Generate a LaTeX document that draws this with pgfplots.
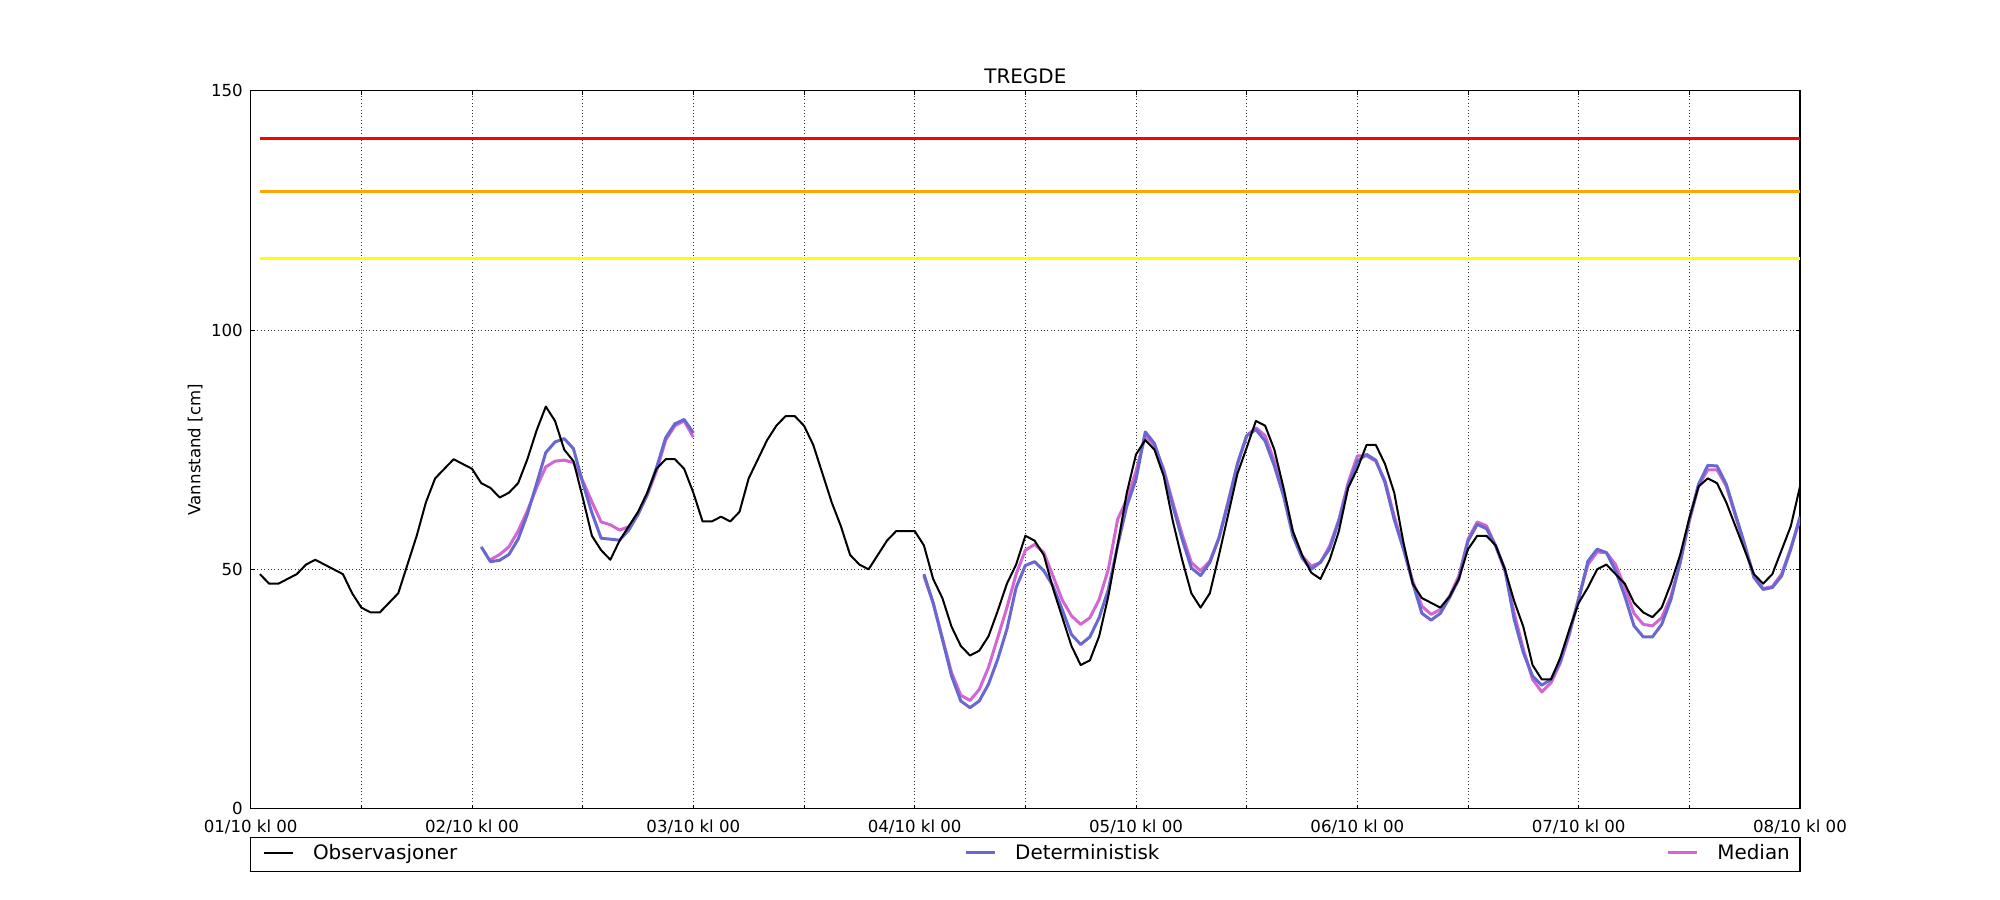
\documentclass[border=0pt]{standalone}
\usepackage{fontspec}
\setmainfont{DejaVu Sans}
\usepackage{pgfplots}
\pgfplotsset{compat=1.18}
\definecolor{detblue}{RGB}{104,104,208}
\definecolor{medpink}{RGB}{210,102,210}
\definecolor{warnorange}{RGB}{255,165,0}
\definecolor{warnyellow}{RGB}{255,255,0}
\begin{document}
\begin{tikzpicture}
\path[use as bounding box] (-181.18pt,-65.98pt) rectangle (1264.22pt,584.45pt);
\begin{axis}[
  name=ax,
  at={(0,0)}, anchor=south west,
  width=1119.68pt, height=518.97pt, scale only axis,
  xmin=0, xmax=168, ymin=0, ymax=150,
  xtick={0,12,...,168},
  xticklabels={01/10 kl 00,,02/10 kl 00,,03/10 kl 00,,04/10 kl 00,,05/10 kl 00,,06/10 kl 00,,07/10 kl 00,,08/10 kl 00},
  ytick={0,50,100,150},
  /pgf/number format/assume math mode=true,
  xticklabel style={anchor=base, yshift=-16.9pt, font=\fontsize{12}{14}\selectfont},
  yticklabel style={anchor=east, inner sep=0pt, xshift=-5.5pt, font=\fontsize{12}{14}\selectfont},
  tick align=inside, major tick length=3pt,
  tick style={black, line width=0.6pt},
  grid=major,
  grid style={black!80, line width=0.45pt, dash pattern=on 0.55pt off 1.9pt},
  axis line style={line width=0.9pt},
  title={TREGDE},
  every axis title/.style={at={(axis description cs:0.5,1.0102)}, anchor=base, font=\fontsize{14.4}{17}\selectfont},
  ylabel={Vannstand [cm]},
  ylabel style={at={(axis description cs:-0.0325,0.5)}, anchor=base, font=\fontsize{12}{14}\selectfont},
  legend style={at={(axis description cs:0.00794,-0.0614)}, anchor=west, draw=none, fill=none,
    inner sep=0pt, font=\fontsize{14.4}{17}\selectfont,
    /tikz/every odd column/.append style={column sep=11.8pt},
    /tikz/every even column/.append style={column sep=468.8pt}},
  legend columns=3,
  legend cell align=left,
  legend image code/.code={\draw[#1] (0pt,0pt) -- (20.7pt,0pt);},
  line join=round,
]
\addlegendimage{black, line width=1.45pt}
\addlegendentry{\makebox[0pt][l]{Observasjoner}}
\addlegendimage{detblue, line width=2.17pt}
\addlegendentry{\makebox[0pt][l]{Deterministisk}}
\addlegendimage{medpink, line width=2.17pt}
\addlegendentry{\makebox[0pt][l]{Median}}

\addplot[forget plot, red, line width=2pt] coordinates {(1,140) (168,140)};
\addplot[forget plot, warnorange, line width=2pt] coordinates {(1,129) (168,129)};
\addplot[forget plot, warnyellow, line width=2pt] coordinates {(1,115) (168,115)};

% Median
\addplot[forget plot, medpink, line width=2.17pt] coordinates {
(26,52) (27,53.1) (28,54.7) (29,58) (30,62.2) (31,67.1) (32,71.4) (33,72.6) (34,72.8) (35,72.3)
(36,68.5) (37,64.1) (38,59.9) (39,59.3) (40,58.2) (41,58.9) (42,61.5) (43,65.5) (44,70.5) (45,77)
(46,80) (47,81) (48,77.6)};
\addplot[forget plot, medpink, line width=2.17pt] coordinates {
(73,48.6) (74,43) (75,35.7) (76,28.4) (77,23.7) (78,22.6) (79,24.9) (80,29.5) (81,35.7) (82,42)
(83,49) (84,54) (85,55.2) (86,53.5) (87,48.6) (88,43.6) (89,40.3) (90,38.5) (91,39.9) (92,43.7)
(93,50) (94,60.4) (95,64.6) (96,70.5) (97,77.9) (98,75.8) (99,70.9) (100,63.9) (101,57.3) (102,51.4)
(103,49.7) (104,51.7) (105,56.6) (106,64.3) (107,71.9) (108,77.9) (109,79.6) (110,77.9) (111,72.6) (112,66)
(113,57.7) (114,52.8) (115,50.7) (116,51.4) (117,54.9) (118,60.4) (119,68.1) (120,73.7) (121,73.7) (122,72.6)
(123,68.5) (124,61.1) (125,54.5) (126,47.6) (127,42.3) (128,40.6) (129,41.6) (130,44.4) (131,48.6) (132,56.3)
(133,59.9) (134,59.1) (135,54.9) (136,49.7) (137,40.9) (138,33.3) (139,27) (140,24.4) (141,26.3) (142,30.4)
(143,36.4) (144,44.1) (145,51) (146,53.6) (147,53.5) (148,51) (149,46.2) (150,40.8) (151,38.5) (152,38.2)
(153,39.9) (154,44.4) (155,51.4) (156,60.1) (157,67.4) (158,70.8) (159,70.8) (160,67.4) (161,61.1) (162,54.9)
(163,48.6) (164,46) (165,46.4) (166,49) (167,54.5) (168,60.4)};

% Deterministisk
\addplot[forget plot, detblue, line width=2.17pt] coordinates {
(25,54.7) (26,51.6) (27,51.9) (28,53.1) (29,56.3) (30,61.5) (31,67.9) (32,74.4) (33,76.6) (34,77.3)
(35,75.2) (36,68.1) (37,61.8) (38,56.5) (39,56.3) (40,56.1) (41,58.2) (42,61.5) (43,65.7) (44,71.2)
(45,77.5) (46,80.4) (47,81.3) (48,78.5)};
\addplot[forget plot, detblue, line width=2.17pt] coordinates {
(73,49) (74,43) (75,35.4) (76,27.7) (77,22.5) (78,21.1) (79,22.5) (80,26) (81,31.2) (82,37.5)
(83,46.2) (84,50.8) (85,51.6) (86,49.7) (87,46.5) (88,41.6) (89,36.4) (90,34.3) (91,35.9) (92,39.9)
(93,45.8) (94,54.9) (95,63.2) (96,68.8) (97,78.7) (98,76.3) (99,70.5) (100,63.2) (101,56.3) (102,50.3)
(103,48.7) (104,51.4) (105,56.6) (106,63.9) (107,72.1) (108,77.9) (109,79.2) (110,76.8) (111,71.6) (112,65.3)
(113,57) (114,52.4) (115,50) (116,51.5) (117,54.3) (118,60.1) (119,67.4) (120,72.6) (121,74) (122,72.8)
(123,68.1) (124,60.4) (125,54.2) (126,47.2) (127,40.8) (128,39.4) (129,40.8) (130,44.1) (131,47.9) (132,55.9)
(133,59.4) (134,58.5) (135,54.9) (136,50) (137,39.6) (138,32.6) (139,27.7) (140,25.8) (141,27) (142,30.8)
(143,36.9) (144,43.7) (145,51.7) (146,54.2) (147,53.5) (148,49.7) (149,44.4) (150,38.2) (151,35.9) (152,35.9)
(153,38.5) (154,43.7) (155,51.4) (156,60.4) (157,67.8) (158,71.7) (159,71.6) (160,67.8) (161,61.5) (162,55.2)
(163,48.3) (164,45.8) (165,46.2) (166,48.6) (167,54.2) (168,61)};

% Observasjoner
\addplot[forget plot, black, line width=1.45pt] coordinates {
(1,49) (2,47) (3,47) (4,48) (5,49) (6,51) (7,52) (8,51) (9,50) (10,49)
(11,45) (12,42) (13,41) (14,41) (15,43) (16,45) (17,51) (18,57) (19,64) (20,69)
(21,71) (22,73) (23,72) (24,71) (25,68) (26,67) (27,65) (28,66) (29,68) (30,73)
(31,79) (32,84) (33,81) (34,75) (35,72.6) (36,65) (37,57) (38,54) (39,52) (40,56)
(41,59) (42,62) (43,66) (44,71) (45,73) (46,73) (47,71) (48,66) (49,60) (50,60)
(51,61) (52,60) (53,62) (54,69) (55,73) (56,77) (57,80) (58,82) (59,82) (60,80)
(61,76) (62,70) (63,64) (64,59) (65,53) (66,51) (67,50) (68,53) (69,56) (70,58)
(71,58) (72,58) (73,55) (74,48) (75,44) (76,38) (77,34) (78,32) (79,33) (80,36)
(81,41.3) (82,47) (83,51) (84,57) (85,56) (86,53) (87,46) (88,40) (89,34) (90,30)
(91,31) (92,36) (93,44.4) (94,55) (95,66) (96,74) (97,77) (98,75) (99,69.5) (100,60)
(101,52) (102,45) (103,42) (104,45) (105,53) (106,61.5) (107,70) (108,75.4) (109,81) (110,80)
(111,75) (112,67) (113,58) (114,53) (115,49.3) (116,48) (117,52) (118,58) (119,67) (120,71)
(121,76) (122,76) (123,72) (124,66) (125,55.6) (126,47) (127,44) (128,43) (129,42) (130,44.3)
(131,48) (132,54.2) (133,57) (134,57) (135,55) (136,50) (137,43.4) (138,38) (139,30) (140,27)
(141,27) (142,31.5) (143,37.5) (144,43) (145,46.2) (146,50) (147,51) (148,49) (149,47) (150,43)
(151,41) (152,40) (153,42) (154,47) (155,53) (156,60.7) (157,67.3) (158,69) (159,68) (160,64)
(161,59) (162,54) (163,49) (164,47) (165,49) (166,54) (167,59) (168,67.3)};
\end{axis}
\draw[line width=0.8pt] (0pt,-20.96pt) rectangle (1119.68pt,-45.53pt);
\end{tikzpicture}
\end{document}
